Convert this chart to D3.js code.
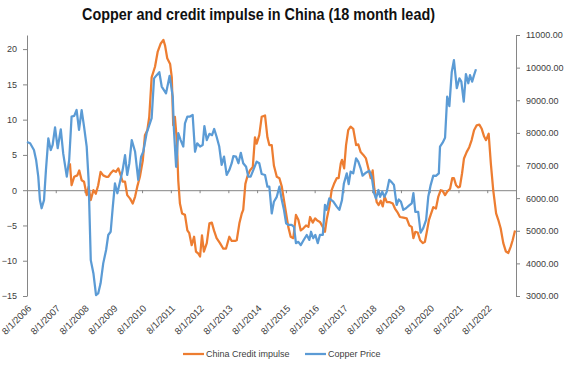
<!DOCTYPE html>
<html>
<head>
<meta charset="utf-8">
<script src="https://cdn.jsdelivr.net/npm/d3@7"></script>
<style>
  body { margin: 0; background: #fff; }
  text { font-family: "Liberation Sans", Arial, sans-serif; }
</style>
</head>
<body>
<svg width="568" height="367"></svg>
<script>
// x values are months counted from 8/1/2006
const xLabels = ["8/1/2006", "8/1/2007", "8/1/2008", "8/1/2009", "8/1/2010", "8/1/2011",
  "8/1/2012", "8/1/2013", "8/1/2014", "8/1/2015", "8/1/2016", "8/1/2017", "8/1/2018",
  "8/1/2019", "8/1/2020", "8/1/2021", "8/1/2022"];
const tickMonths = [0, 12, 24, 36, 48, 60, 72, 84, 96, 108, 120, 132, 144, 156, 168, 180, 192, 204];
const leftTicks = [-15, -10, -5, 0, 5, 10, 15, 20];
const rightTicks = [3000, 4000, 5000, 6000, 7000, 8000, 9000, 10000, 11000];

// copper price (right axis), [month, price]
const copper = [
  [0, 7720], [1.3, 7680], [2.9, 7475], [3.8, 7170], [4.7, 6660], [5.4, 5940], [6.1, 5690],
  [7.1, 5940], [7.9, 6860], [8.9, 7830], [9.9, 7475], [10.7, 7630], [11.7, 8170], [12.8, 7530],
  [14.1, 8110], [15.1, 7370], [16.6, 6660], [17.6, 7170], [18.6, 8500], [19.7, 8520], [20.7, 8700],
  [21.7, 8090], [22.8, 8700], [23.8, 8190], [24.9, 7580], [25.7, 6560], [26.6, 4100], [27.7, 3700],
  [28.8, 3030], [29.7, 3080], [30.7, 3390], [31.8, 4000], [33.0, 4410], [33.9, 4870], [34.9, 4970],
  [35.8, 5740], [36.7, 6450], [37.7, 6150], [38.8, 6500], [39.9, 6860], [40.9, 7320], [41.8, 6710],
  [42.7, 7070], [43.7, 7780], [45.1, 7420], [46.4, 6560], [47.6, 7270], [48.5, 7420], [49.9, 7990],
  [52.0, 8450], [53.0, 9670], [54.1, 9770], [55.2, 9860], [56.2, 9420], [58.0, 9210], [59.5, 9750],
  [60.8, 9110], [61.3, 8090], [62.2, 6960], [63.1, 7990], [64.1, 7780], [65.2, 7580], [65.9, 8290],
  [66.9, 8500], [68.0, 8500], [69.1, 8550], [70.1, 7420], [71.0, 7680], [72.2, 7580], [73.3, 7630],
  [74.0, 8210], [75.0, 7780], [76.1, 7970], [77.2, 7930], [78.1, 8120], [79.1, 7880], [80.2, 7580],
  [81.2, 7020], [82.2, 7270], [83.3, 6710], [84.4, 6860], [85.4, 7070], [86.1, 7290], [87.2, 7270],
  [88.2, 7070], [89.2, 7390], [90.2, 7070], [91.4, 6960], [92.3, 6660], [93.3, 6660], [94.4, 6860],
  [95.8, 7120], [96.9, 7070], [97.9, 6740], [99.3, 6710], [100.3, 6350], [101.1, 6350], [102.1, 5530],
  [103.0, 5890], [104.2, 6040], [105.3, 6350], [106.3, 5940], [107.2, 5640], [108.1, 5230], [109.0, 5180],
  [110.4, 5180], [111.4, 5120], [112.2, 4620], [113.2, 4660], [114.2, 4560], [115.3, 4700], [116.7, 4870],
  [117.8, 4720], [118.5, 4970], [119.4, 4770], [120.3, 4870], [121.3, 4620], [122.2, 4870], [123.4, 4870],
  [124.3, 5790], [125.0, 5640], [126.1, 5990], [127.8, 5890], [129.2, 5740], [130.3, 5640], [131.4, 5940],
  [132.2, 6450], [133.4, 6760], [134.2, 6430], [135.0, 6810], [136.1, 6760], [137.3, 7220], [138.2, 7120],
  [139.2, 6910], [140.0, 6690], [141.4, 6780], [142.8, 6840], [143.8, 6660], [144.8, 6150], [145.6, 5990],
  [146.6, 6250], [147.3, 6040], [148.2, 6200], [149.1, 6040], [150.1, 6200], [151.1, 6560], [152.1, 6490],
  [153.1, 6400], [154.2, 5790], [155.1, 5960], [156.0, 5890], [157.0, 5640], [158.1, 5690], [159.2, 5760],
  [160.5, 5840], [161.2, 6150], [162.0, 5580], [163.2, 5580], [164.2, 4940], [165.3, 5080], [166.5, 5330],
  [167.4, 6040], [168.4, 6400], [169.5, 6690], [170.6, 6680], [171.8, 6760], [172.3, 7580], [173.4, 7700],
  [174.4, 7850], [175.3, 9110], [176.2, 8820], [177.2, 9870], [178.1, 10230], [179.3, 9370], [180.4, 9670],
  [181.2, 9570], [182.2, 8960], [183.1, 9800], [184.1, 9520], [184.8, 9770], [185.7, 9570], [186.5, 9770],
  [187.3, 9950]
];

// China credit impulse, 18 month lead (left axis), [month, value]
const credit = [
  [17.9, 3.8], [18.6, 0.7], [19.7, 1.9], [21.0, 2.1], [21.8, 2.8], [22.8, 1.4], [23.8, 1.2],
  [24.9, -0.7], [25.7, 0.5], [26.6, -1.4], [27.7, 0.0], [28.7, -0.5], [29.7, 0.7], [30.7, 2.6],
  [31.8, 2.1], [33.0, 1.9], [33.9, 1.9], [34.9, 2.4], [36.0, 2.8], [37.1, 2.6], [38.1, 3.1],
  [39.1, 2.1], [39.9, 1.2], [40.9, 1.2], [41.8, -0.7], [43.0, -1.2], [44.1, -1.9], [45.1, -0.9],
  [46.0, 0.5], [47.1, 1.9], [48.3, 4.2], [49.2, 7.8], [50.2, 8.5], [51.0, 10.4], [52.0, 16.0],
  [53.4, 17.5], [54.5, 19.6], [55.8, 20.8], [56.9, 21.3], [57.6, 20.5], [58.5, 18.7], [59.7, 17.9],
  [60.4, 16.0], [61.0, 9.2], [61.7, 10.4], [62.5, 7.1], [63.1, 1.4], [63.8, -1.9], [64.7, -3.3],
  [65.9, -3.5], [66.9, -5.7], [67.7, -6.1], [68.7, -7.8], [69.7, -6.6], [70.5, -8.7], [71.5, -9.0],
  [72.2, -9.4], [73.0, -6.4], [73.8, -8.7], [75.0, -7.5], [76.1, -4.7], [77.1, -4.6], [78.0, -5.7],
  [79.1, -6.8], [80.5, -7.5], [81.9, -8.3], [83.0, -8.3], [84.4, -6.6], [85.4, -7.2], [86.8, -7.2],
  [87.5, -7.1], [88.6, -4.7], [89.6, -3.3], [90.2, -2.8], [91.1, 0.9], [91.9, 1.9], [93.0, 2.8],
  [94.2, 3.3], [95.1, 7.5], [95.8, 6.6], [96.9, 7.8], [97.9, 10.4], [99.3, 10.6], [100.3, 7.5],
  [101.1, 6.4], [102.1, 6.4], [103.0, 3.5], [104.2, 1.9], [105.3, 1.7], [106.3, 0.5], [107.2, -1.4],
  [108.1, -3.3], [109.0, -5.2], [110.0, -6.6], [111.1, -6.8], [112.2, -3.5], [113.2, -4.2], [114.2, -5.7],
  [115.3, -5.4], [116.4, -5.0], [117.4, -5.2], [118.1, -3.8], [119.2, -4.6], [120.2, -4.0], [121.1, -4.3],
  [122.2, -4.5], [123.4, -5.2], [124.3, -5.9], [125.0, -4.2], [126.1, -2.4], [127.1, 0.0], [128.1, 0.9],
  [129.2, 1.7], [130.0, 1.7], [130.9, 3.8], [131.4, 4.3], [132.3, 3.1], [133.1, 6.4], [134.0, 8.5],
  [135.0, 9.0], [136.1, 8.7], [137.3, 6.4], [138.2, 6.5], [139.2, 5.4], [140.3, 5.0], [141.4, 4.5],
  [142.4, 3.1], [143.4, 1.7], [144.2, 2.8], [144.9, 0.2], [145.9, -1.7], [146.7, -2.1], [147.6, -1.5],
  [148.4, -2.3], [149.2, -0.9], [150.1, -1.7], [151.4, -1.7], [152.6, -1.9], [153.5, -2.6], [154.5, -3.1],
  [155.6, -3.8], [157.0, -3.9], [158.4, -4.0], [159.5, -5.0], [160.5, -5.2], [161.2, -6.8], [162.0, -5.9],
  [163.0, -6.0], [164.0, -7.1], [165.1, -7.5], [166.0, -7.3], [166.8, -5.9], [167.7, -4.2], [168.4, -3.5],
  [169.5, -2.4], [170.6, -2.6], [171.6, -0.9], [172.6, 0.0], [173.4, -0.1], [174.4, -0.7], [175.3, -0.2],
  [176.5, 0.2], [177.4, 1.7], [178.1, 1.7], [179.0, 0.7], [179.9, 0.4], [180.6, 0.5], [181.5, 2.4],
  [182.3, 4.5], [183.4, 5.4], [184.5, 6.1], [185.5, 7.1], [186.5, 8.5], [187.6, 9.2], [188.7, 9.3],
  [189.7, 8.7], [190.7, 7.6], [191.5, 7.1], [192.6, 8.0], [193.5, 3.8], [194.5, 0.0], [195.7, -3.3],
  [196.6, -4.2], [197.6, -5.4], [198.7, -7.5], [199.8, -8.7], [200.8, -8.9], [201.8, -8.0], [202.6, -7.1],
  [203.6, -5.7]
];

let svg = d3.select("svg");
const plotLeft = 27, plotRight = 516, plotTop = 35, plotBottom = 296;
const axisColor = "#868686", textColor = "#404040";

let x = d3.scaleLinear().domain([0, 204]).range([plotLeft, plotRight]);
let yL = d3.scaleLinear().domain([-15, 22]).range([plotBottom, plotTop]);
let yR = d3.scaleLinear().domain([3000, 11000]).range([plotBottom, plotTop]);

// title
svg.append("text")
    .attr("x", 258.5).attr("y", 20)
    .attr("text-anchor", "middle")
    .attr("font-size", 17).attr("font-weight", "bold")
    .attr("fill", "#111")
    .attr("textLength", 353).attr("lengthAdjust", "spacingAndGlyphs")
    .text("Copper and credit impulse in China (18 month lead)");

function styleAxis(g) {
  g.select(".domain").attr("stroke", axisColor);
  g.selectAll(".tick line").attr("stroke", axisColor);
  g.selectAll(".tick text").attr("fill", textColor).attr("font-size", 9)
      .attr("font-family", "Liberation Sans, Arial, sans-serif");
}

// left axis
svg.append("g")
    .attr("transform", "translate(" + plotLeft + ",0)")
    .call(d3.axisLeft(yL).tickValues(leftTicks).tickSize(4).tickSizeOuter(0).tickPadding(6))
    .call(styleAxis);

// right axis
svg.append("g")
    .attr("transform", "translate(" + plotRight + ",0)")
    .call(d3.axisRight(yR).tickValues(rightTicks).tickFormat(d3.format(".2f"))
        .tickSize(4).tickSizeOuter(0).tickPadding(6))
    .call(styleAxis);

// horizontal axis sits on the zero line
svg.append("g")
    .attr("transform", "translate(0," + yL(0) + ")")
    .call(d3.axisBottom(x).tickValues(tickMonths).tickFormat("").tickSize(3).tickSizeOuter(0))
    .call(styleAxis);

// date labels under the plot
svg.append("g").selectAll("text")
    .data(xLabels)
    .enter().append("text")
    .attr("transform", function (d, i) {
      return "translate(" + (x(tickMonths[i]) + 5) + "," + (plotBottom + 13) + ") rotate(-45)";
    })
    .attr("text-anchor", "end")
    .attr("font-size", 9.5)
    .attr("fill", textColor)
    .text(function (d) { return d; });

// series
let creditLine = d3.line()
    .x(function (d) { return x(d[0]); })
    .y(function (d) { return yL(d[1]); });
let copperLine = d3.line()
    .x(function (d) { return x(d[0]); })
    .y(function (d) { return yR(d[1]); });

svg.append("path")
    .datum(credit)
    .attr("d", creditLine)
    .attr("fill", "none").attr("stroke", "#ED7D31")
    .attr("stroke-width", 2.25).attr("stroke-linejoin", "round");

svg.append("path")
    .datum(copper)
    .attr("d", copperLine)
    .attr("fill", "none").attr("stroke", "#5B9BD5")
    .attr("stroke-width", 2.25).attr("stroke-linejoin", "round");

// legend
const legendItems = [
  { name: "China Credit impulse", color: "#ED7D31", x: 183 },
  { name: "Copper Price", color: "#5B9BD5", x: 305 }
];
let legend = svg.append("g").selectAll("g")
    .data(legendItems)
    .enter().append("g")
    .attr("transform", function (d) { return "translate(" + d.x + ",354)"; });
legend.append("line")
    .attr("x1", 0).attr("x2", 21)
    .attr("stroke", function (d) { return d.color; })
    .attr("stroke-width", 2.25);
legend.append("text")
    .attr("x", 23).attr("dy", "0.33em")
    .attr("font-size", 9)
    .attr("fill", textColor)
    .text(function (d) { return d.name; });
</script>
</body>
</html>
